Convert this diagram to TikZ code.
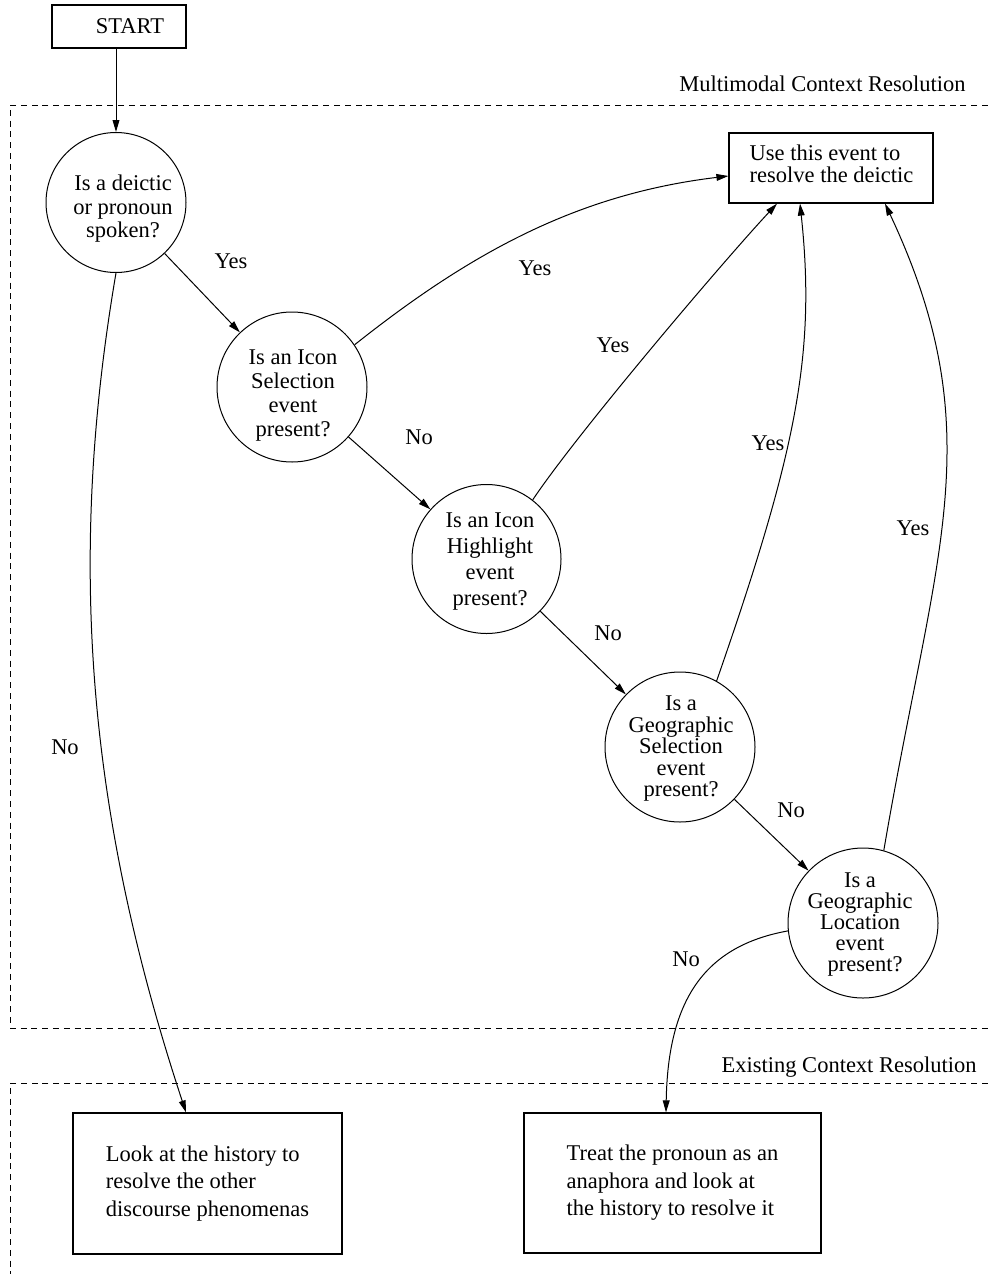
\documentclass[tikz,border=0pt]{standalone}
\usepackage{fontspec}
\setmainfont{Liberation Serif}
\usetikzlibrary{arrows.meta,calc}

\begin{document}
\begin{tikzpicture}[x=0.5pt,y=-0.5pt,
  every node/.style={font=\fontsize{11.25pt}{13.5pt}\selectfont},
  lbl/.style={inner sep=0pt},
  qtext/.style={inner sep=0pt, align=center, font=\fontsize{11.25pt}{#1}\selectfont},
  btext/.style={inner sep=0pt, align=left, font=\fontsize{11.25pt}{#1}\selectfont},
  decision/.style={draw, circle, line width=0.5pt, inner sep=0pt, minimum size=#1},
  actionbox/.style={draw, rectangle, line width=0.6pt, inner sep=0pt},
  flow/.style={line width=0.5pt, -{Triangle[length=6pt,width=3.4pt]}},
  region/.style={line width=0.5pt, dash pattern=on 3pt off 2.4pt}
]
\useasboundingbox (0,0) rectangle (988,1274);

% region frames and their titles
\draw[region] (988,105) -- (10,105) -- (10,1028) -- (988,1028);
\draw[region] (988,1083) -- (10,1083) -- (10,1274);
\node[lbl, anchor=base east] (mmtitle) at (966,91) {Multimodal Context Resolution};
\node[lbl, anchor=base east] (extitle) at (977,1072) {Existing Context Resolution};

% start
\node[actionbox, minimum width=67pt, minimum height=21.5pt] (start) at (119,26.5) {\hspace*{11pt}START};

% decisions
\node[decision=70pt] (c1) at (116,202.5) {};
\node[qtext=11.75pt] (c1t) at (123,209) {Is a deictic\\or pronoun\\spoken?};

\node[decision=75pt] (c2) at (292,387) {};
\node[qtext=12pt] (c2t) at (293,396) {Is an Icon\\Selection\\event\hspace*{6pt}\\present?};

\node[decision=74.5pt] (c3) at (486.5,559) {};
\node[qtext=13pt] (c3t) at (490,562) {Is an Icon\\Highlight\\event\hspace*{4.5pt}\\present?};

\node[decision=75pt] (c4) at (680,747) {};
\node[qtext=10.75pt] (c4t) at (681,749) {Is a\\Geographic\\Selection\\event\hspace*{5pt}\\present?};

\node[decision=75pt] (c5) at (863,923) {};
\node[qtext=10.5pt] (c5t) at (860,925) {Is a\\Geographic\\Location\\event\\\hspace*{5pt}present?};

% actions
\node[actionbox, minimum width=102pt, minimum height=35pt] (use) at (831,168) {};
\node[btext=11pt] (uset) at (831.5,163.5) {Use this event to\\resolve the deictic};

\node[actionbox, minimum width=134.5pt, minimum height=70.5pt, btext=13.75pt] (b1) at (207.5,1183.5)
  {Look at the history to\\resolve the other\\discourse phenomenas};
\node[actionbox, minimum width=148.5pt, minimum height=70pt, btext=13.75pt] (b2) at (672.5,1183)
  {Treat the pronoun as an\\anaphora and look at\\the history to resolve it};

% connectors
\draw[flow] (start.south -| c1.north) -- (c1.north);
\draw[flow] (c1) -- (c2);
\draw[flow] (c2) -- (c3);
\draw[flow] (c3) -- (c4);
\draw[flow] (c4) -- (c5);
\draw[flow] (c1.south) .. controls +(-49,287) and +(-99,-300) .. ($(b1.north)+(-21.5,0)$);
\draw[flow] (c2.34.5) .. controls +(117,-93) and +(-150,18) .. ($(use.west)+(0,8)$);
\draw[flow] (c3.52) .. controls +(44,-66) and +(-54,58) .. ($(use.south)+(-54,0)$);
\draw[flow] (c4.61) .. controls +(80,-230) and +(16,150) .. ($(use.south)+(-31,0)$);
\draw[flow] (c5.74) .. controls +(51,-300) and +(108,230) .. ($(use.south)+(54,0)$);
\draw[flow] (c5.186) .. controls +(-83,15) and +(2,-113) .. ($(b2.north)+(-6.5,0)$);

% branch labels
\node[lbl] (yes1) at (231,261) {Yes};
\node[lbl] (yes2) at (535,268) {Yes};
\node[lbl] (no2) at (419,437) {No};
\node[lbl] (yes3) at (613,345) {Yes};
\node[lbl] (no3) at (608,633) {No};
\node[lbl] (yes4) at (768,443) {Yes};
\node[lbl] (no4) at (791,810) {No};
\node[lbl] (yes5) at (913,528) {Yes};
\node[lbl] (no5) at (686,959) {No};
\node[lbl] (no1) at (65,747) {No};
\end{tikzpicture}
\end{document}
